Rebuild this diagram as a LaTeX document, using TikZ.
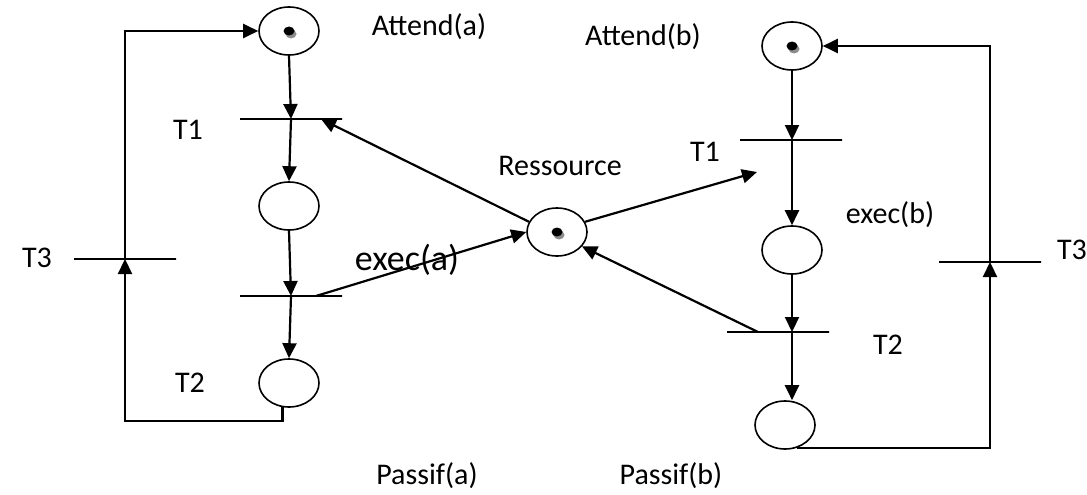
\documentclass[tikz,border=0pt]{standalone}
\usepackage{fontspec}
\setmainfont{Carlito}
\usetikzlibrary{arrows.meta,shapes.geometric}

\tikzset{
  place/.style={draw,ellipse,line width=1.6pt,minimum width=60pt,minimum height=48pt,inner sep=0pt},
  bar/.style={draw,line width=1.5pt,minimum width=102pt,minimum height=0pt,inner sep=0pt},
  arc/.style={line width=2.2pt,-{Triangle[length=15pt,width=14pt]}},
  lbl/.style={font=\fontsize{30}{34}\selectfont},
}
% jeton dans une place
\newcommand{\jeton}[1]{%
  \fill[black!45] (#1) ++(2pt,-3pt) ellipse (5.5pt and 4.5pt);
  \fill[black] (#1) ellipse (5.5pt and 4.5pt);
}

\begin{document}
\begin{tikzpicture}[x=1pt,y=-1pt]
  \useasboundingbox (0,0) rectangle (1087,495);

  % processus a
  \node[place] (pa1) at (289,31) {};
  \node[bar] (ta1) at (291,119) {};
  \node[place] (pa2) at (289,206) {};
  \node[bar] (ta2) at (291,296) {};
  \node[place] (pa3) at (289,383) {};
  \node[bar] (ta3) at (125,259) {};

  % ressource partagee
  \node[place] (res) at (557,232) {};

  % processus b
  \node[place] (pb1) at (792,46) {};
  \node[bar] (tb1) at (791,140) {};
  \node[place] (pb2) at (792,250) {};
  \node[bar] (tb2) at (778,332) {};
  \node[place] (pb3) at (785,425) {};
  \node[bar] (tb3) at (990,262) {};
  \coordinate (tb1in) at (757,172);

  \jeton{pa1.center}
  \jeton{res.center}
  \jeton{pb1.center}

  % arcs a
  \draw[arc] (pa1.south) -- (ta1.center);
  \draw[arc] (ta1.center) -- (pa2.north);
  \draw[arc] (pa2.south) -- (ta2.center);
  \draw[arc] (ta2.center) -- (pa3.north);
  \draw[arc] (pa3.-105) -- ++(0,14) -| (ta3.center);
  \draw[arc] (ta3.center) |- (pa1.west);

  % arcs b
  \draw[arc] (pb1.south) -- (pb1.south|-tb1.center);
  \draw[arc] (pb1.south|-tb1.center) -- (pb2.north);
  \draw[arc] (pb2.south) -- (pb2.south|-tb2.center);
  \draw[arc] (pb2.south|-tb2.center) -- (pb2.south|-pb3.north);
  \draw[arc] (pb3.-62) -| (tb3.center);
  \draw[arc] (tb3.center) |- (pb1.east);

  % arcs de la ressource
  \draw[arc] (res.160) -- ([xshift=30pt]ta1.center);
  \draw[arc] ([xshift=25pt]ta2.center) -- (res.west);
  \draw[arc] (res.20) -- (tb1in);
  \draw[arc] ([xshift=-20pt]tb2.center) -- (res.-30);

  % etiquettes
  \node[lbl] (la1) at (429,27) {Attend(a)};
  \node[lbl] (lb1) at (643,37) {Attend(b)};
  \node[lbl] (lt1a) at (188,130) {T1};
  \node[lbl] (lt1b) at (705,152) {T1};
  \node[lbl] (lres) at (560,166) {Ressource};
  \node[lbl] (lexb) at (890,215) {exec(b)};
  \node[lbl] (lt3a) at (37,258) {T3};
  \node[lbl] (lt3b) at (1072,250) {T3};
  \node[font=\fontsize{36}{40}\selectfont] (lexa) at (407,260) {exec(a)};
  \node[lbl] (lt2a) at (190,383) {T2};
  \node[lbl] (lt2b) at (888,345) {T2};
  \node[lbl] (lpa) at (427,476) {Passif(a)};
  \node[lbl] (lpb) at (671,476) {Passif(b)};
\end{tikzpicture}
\end{document}
